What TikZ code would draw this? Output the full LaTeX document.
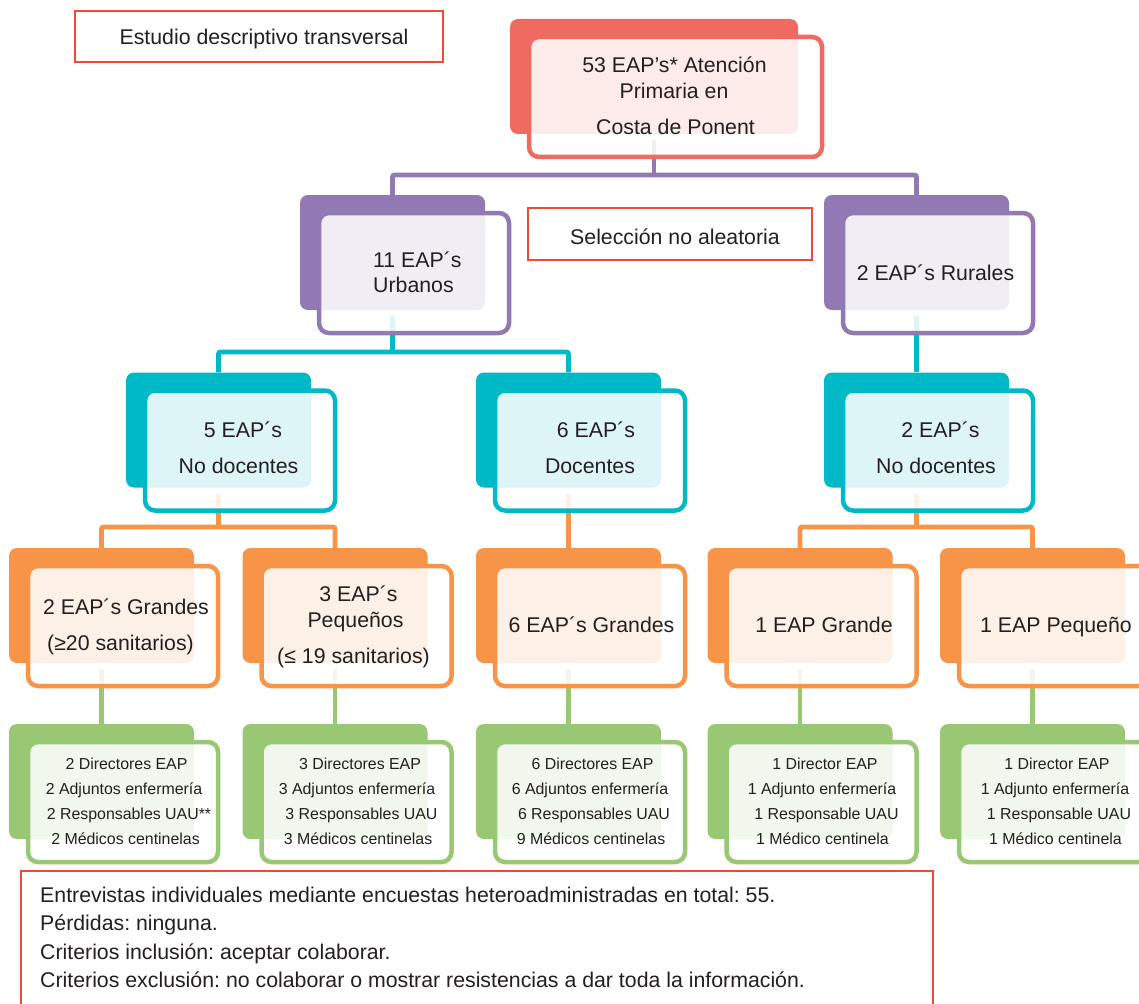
\documentclass[tikz,border=0pt]{standalone}
\usepackage{fontspec}
\setmainfont{Liberation Sans}
\usetikzlibrary{backgrounds}
\frenchspacing
\definecolor{cRed}{HTML}{F16A62}
\definecolor{cPur}{HTML}{917AB4}
\definecolor{cTeal}{HTML}{00B9C7}
\definecolor{cOra}{HTML}{F79447}
\definecolor{cGre}{HTML}{98C873}
\definecolor{cBox}{HTML}{EE4B35}
\definecolor{cText}{HTML}{231F20}
\tikzset{
 backbox/.style={rectangle, rounded corners=8pt, minimum height=115pt, inner sep=0pt, draw=none},
 frontbox/.style={rectangle, rounded corners=10pt, minimum height=120pt, inner sep=0pt, line width=4.5pt, fill=white, fill opacity=0.87},
 conn/.style={line width=4.7pt, rounded corners=2pt},
 txt/.style={inner sep=0pt, anchor=base, text=cText, font=\fontsize{21.3}{25}\selectfont},
 txtw/.style={txt, anchor=base west},
 stxt/.style={txt, font=\fontsize{15.9}{19}\selectfont},
 tbox/.style={draw=cBox, line width=1.8pt, fill=white, inner sep=0pt},
}
\newcommand\grp[5]{%
 \node[backbox, fill=#5, minimum width=#4pt] (#1) at (#2,#3) {};
 \node[frontbox, draw=#5, minimum width=#4pt+5pt] (#1f) at (#2+21.5,#3+20.5) {};
}
\newcommand\tline[5][txt]{\node[#1] (#2) at (#3,#4) {#5};}
\begin{document}
\begin{tikzpicture}[x=1pt,y=-1pt]
\path[use as bounding box] (0,0) rectangle (1139,1003);
\clip (0,0) rectangle (1139,1003);
\begin{scope}[on background layer]
\fill[white] (0,0) rectangle (1139,1003);
\end{scope}

% boxes
\grp{top}{654}{76.5}{288}{cRed}
\grp{pL}{392.5}{252.5}{185}{cPur}
\grp{pR}{916.5}{252.5}{185}{cPur}
\grp{tL}{218.5}{430}{185}{cTeal}
\grp{tM}{568.5}{430}{185}{cTeal}
\grp{tR}{916.5}{430}{185}{cTeal}
\grp{oA}{101.5}{605.5}{185}{cOra}
\grp{oB}{335}{605.5}{185}{cOra}
\grp{oC}{568.5}{605.5}{185}{cOra}
\grp{oD}{800}{605.5}{185}{cOra}
\grp{oE}{1032.5}{605.5}{185}{cOra}
\grp{gA}{101.5}{781.5}{185}{cGre}
\grp{gB}{335}{781.5}{185}{cGre}
\grp{gC}{568.5}{781.5}{185}{cGre}
\grp{gD}{800}{781.5}{185}{cGre}
\grp{gE}{1032.5}{781.5}{185}{cGre}

% junctions
\coordinate (j1) at (654,175);
\coordinate (j2) at (392.5,352);
\coordinate (j3) at (218.5,527);
\coordinate (j4) at (916.5,527);

\begin{scope}[on background layer]
\draw[conn, cPur] ([yshift=-6pt]top.south) -- (j1);
\draw[conn, cPur] (pL.north) |- (j1) -| (pR.north);
\draw[conn, cTeal] ([yshift=-6pt]pL.south) -- (j2);
\draw[conn, cTeal] (tL.north) |- (j2) -| (tM.north);
\draw[conn, cTeal] ([yshift=-6pt]pR.south) -- (tR.north);
\draw[conn, cOra] ([yshift=-6pt]tL.south) -- (j3);
\draw[conn, cOra] (oA.north) |- (j3) -| (oB.north);
\draw[conn, cOra] ([yshift=-6pt]tM.south) -- (oC.north);
\draw[conn, cOra] ([yshift=-6pt]tR.south) -- (j4);
\draw[conn, cOra] (oD.north) |- (j4) -| (oE.north);
\draw[conn, cGre] ([yshift=-6pt]oA.south) -- (gA.north);
\draw[conn, cGre] ([yshift=-6pt]oB.south) -- (gB.north);
\draw[conn, cGre] ([yshift=-6pt]oC.south) -- (gC.north);
\draw[conn, cGre] ([yshift=-6pt]oD.south) -- (gD.north);
\draw[conn, cGre] ([yshift=-6pt]oE.south) -- (gE.north);
\end{scope}

% text boxes
\node[tbox, minimum width=368pt, minimum height=51pt] (est) at (259,36.5) {};
\tline{estT}{264}{45}{Estudio descriptivo transversal}
\node[tbox, minimum width=284pt, minimum height=52pt] (sel) at (670,234) {};
\tline{selT}{675}{244}{Selección no aleatoria}
\draw[cBox, line width=1.8pt, fill=white] (21,871) rectangle (933,1015);
\tline[txtw]{b1}{40}{902}{Entrevistas individuales mediante encuestas heteroadministradas en total: 55.}
\tline[txtw]{b2}{40}{930.5}{Pérdidas: ninguna.}
\tline[txtw]{b3}{40}{959}{Criterios inclusión: aceptar colaborar.}
\tline[txtw]{b4}{40}{987.5}{Criterios exclusión: no colaborar o mostrar resistencias a dar toda la información.}

% box texts
\tline{top1}{674.5}{73}{53 EAP’s* Atención}
\tline{top2}{674}{99}{Primaria en}
\tline{top3}{675.5}{135}{Costa de Ponent}
\tline[txtw]{pL1}{373}{267}{11 EAP´s}
\tline[txtw]{pL2}{373}{292}{Urbanos}
\tline{pR1}{935.5}{280}{2 EAP´s Rurales}
\tline{tL1}{243}{437.5}{5 EAP´s}
\tline{tL2}{238.5}{473}{No docentes}
\tline{tM1}{596}{437.5}{6 EAP´s}
\tline{tM2}{590}{473}{Docentes}
\tline{tR1}{940.5}{437.5}{2 EAP´s}
\tline{tR2}{936}{473}{No docentes}
\tline{oA1}{126}{614}{2 EAP´s Grandes}
\tline{oA2}{120.5}{650}{(≥20 sanitarios)}
\tline{oB1}{358.5}{601}{3 EAP´s}
\tline{oB2}{355.5}{627}{Pequeños}
\tline{oB3}{353.5}{663}{(≤ 19 sanitarios)}
\tline{oC1}{591.5}{632}{6 EAP´s Grandes}
\tline{oD1}{824}{632}{1 EAP Grande}
\tline{oE1}{1056}{632}{1 EAP Pequeño}

\tline[stxt]{gA1}{126.5}{769}{2 Directores EAP}
\tline[stxt]{gA2}{124}{794}{2 Adjuntos enfermería}
\tline[stxt]{gA3}{129}{819}{2 Responsables UAU**}
\tline[stxt]{gA4}{125.5}{844}{2 Médicos centinelas}
\tline[stxt]{gB1}{360}{769}{3 Directores EAP}
\tline[stxt]{gB2}{357}{794}{3 Adjuntos enfermería}
\tline[stxt]{gB3}{361.5}{819}{3 Responsables UAU}
\tline[stxt]{gB4}{358}{844}{3 Médicos centinelas}
\tline[stxt]{gC1}{592.5}{769}{6 Directores EAP}
\tline[stxt]{gC2}{590}{794}{6 Adjuntos enfermería}
\tline[stxt]{gC3}{594}{819}{6 Responsables UAU}
\tline[stxt]{gC4}{591}{844}{9 Médicos centinelas}
\tline[stxt]{gD1}{825}{769}{1 Director EAP}
\tline[stxt]{gD2}{822}{794}{1 Adjunto enfermería}
\tline[stxt]{gD3}{826.5}{819}{1 Responsable UAU}
\tline[stxt]{gD4}{822.5}{844}{1 Médico centinela}
\tline[stxt]{gE1}{1057}{769}{1 Director EAP}
\tline[stxt]{gE2}{1055}{794}{1 Adjunto enfermería}
\tline[stxt]{gE3}{1059}{819}{1 Responsable UAU}
\tline[stxt]{gE4}{1055.5}{844}{1 Médico centinela}
\end{tikzpicture}
\end{document}
